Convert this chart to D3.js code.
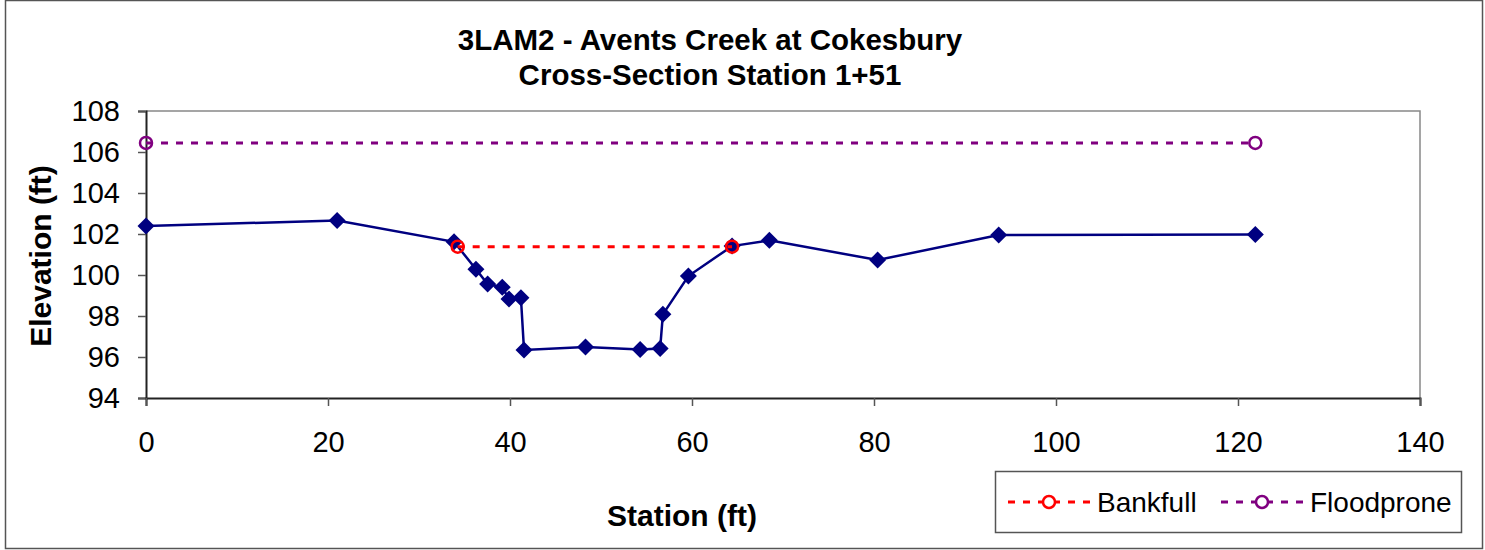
<!DOCTYPE html>
<html>
<head>
<meta charset="utf-8">
<script src="https://cdn.jsdelivr.net/npm/d3@7"></script>
<style>
  body { margin: 0; background: #fff; }
  text { font-family: "Liberation Sans", Arial, sans-serif; }
</style>
</head>
<body>
<svg id="chart" width="1485" height="550"></svg>
<script>
// cross-section survey points
const station = [0, 21, 33.85, 36.26, 37.54, 39.15, 39.89, 41.2, 41.54, 48.3, 54.3, 56.5, 56.8, 59.6, 64.4, 68.5, 80.4, 93.7, 121.9];
const elevation = [102.39, 102.66, 101.62, 100.28, 99.56, 99.40, 98.83, 98.89, 96.34, 96.49, 96.36, 96.41, 98.08, 99.95, 101.41, 101.69, 100.73, 101.95, 101.97];
const bankfullX = [34.25, 64.4];
const bankfullY = [101.38, 101.38];
const floodX = [0, 121.9];
const floodY = [106.44, 106.44];
const xTicks = [0, 20, 40, 60, 80, 100, 120, 140];
const yTicks = [94, 96, 98, 100, 102, 104, 106, 108];

const svg = d3.select('#chart');
const W = 1485, H = 550;
const mLeft = 146, mRight = 1420, mTop = 111, mBottom = 398;

// outer chart frame
svg.append('rect').attr('x', 5.5).attr('y', 0.5).attr('width', W - 8).attr('height', H - 2)
  .attr('fill', '#fff').attr('stroke', '#555').attr('stroke-width', 1.5);

const x = d3.scaleLinear().domain([0, 140]).range([mLeft, mRight]);
const y = d3.scaleLinear().domain([94, 108]).range([mBottom, mTop]);

// plot area border (top/right grey)
svg.append('path')
  .attr('d', `M${mLeft},${mTop}H${mRight}V${mBottom}`)
  .attr('fill', 'none').attr('stroke', '#888').attr('stroke-width', 1.5);

const yAxis = svg.append('g').attr('transform', `translate(${mLeft},0)`)
  .call(d3.axisLeft(y).tickValues(yTicks).tickSize(8).tickPadding(18).tickFormat(d3.format('d')));
const xAxis = svg.append('g').attr('transform', `translate(0,${mBottom})`)
  .call(d3.axisBottom(x).tickValues(xTicks).tickSize(8).tickPadding(25).tickFormat(d3.format('d')));
[xAxis, yAxis].forEach(a => {
  a.select('.domain').attr('stroke', '#222').attr('stroke-width', 2);
  a.selectAll('.tick line').attr('stroke', '#555').attr('stroke-width', 1.5);
  a.selectAll('.tick text').attr('font-size', 29).attr('fill', '#000')
    .attr('font-family', '"Liberation Sans", Arial, sans-serif');
});

// ground line
const pts = station.map((s, i) => [s, elevation[i]]);
const line = d3.line().x(d => x(d[0])).y(d => y(d[1]));
svg.append('path').datum(pts).attr('d', line)
  .attr('fill', 'none').attr('stroke', '#000080').attr('stroke-width', 2.5);
svg.append('g').selectAll('path').data(pts).join('path')
  .attr('transform', d => `translate(${x(d[0])},${y(d[1])})`)
  .attr('d', 'M0,-8.5L8.5,0L0,8.5L-8.5,0Z')
  .attr('fill', '#000080');

function dashed(xs, ys, color) {
  const p = xs.map((v, i) => [v, ys[i]]);
  svg.append('path').datum(p).attr('d', line)
    .attr('fill', 'none').attr('stroke', color).attr('stroke-width', 3).attr('stroke-dasharray', '7,8');
  svg.append('g').selectAll('circle').data(p).join('circle')
    .attr('cx', d => x(d[0])).attr('cy', d => y(d[1])).attr('r', 6)
    .attr('fill', 'none').attr('stroke', color).attr('stroke-width', 2.5);
}
dashed(bankfullX, bankfullY, '#ff0000');
dashed(floodX, floodY, '#800080');

// titles
const title = svg.append('text').attr('text-anchor', 'middle').attr('font-weight', 'bold')
  .attr('font-size', 29.5).attr('x', 710);
title.append('tspan').attr('x', 710).attr('y', 50).text('3LAM2 - Avents Creek at Cokesbury');
title.append('tspan').attr('x', 710).attr('y', 85).text('Cross-Section Station 1+51');

svg.append('text').attr('text-anchor', 'middle').attr('font-weight', 'bold').attr('font-size', 30)
  .attr('x', 682).attr('y', 526).text('Station (ft)');
svg.append('text').attr('text-anchor', 'middle').attr('font-weight', 'bold').attr('font-size', 30)
  .attr('transform', 'translate(51,256) rotate(-90)').text('Elevation (ft)');

// legend
const lg = svg.append('g');
lg.append('rect').attr('x', 995.5).attr('y', 471.5).attr('width', 466).attr('height', 61)
  .attr('fill', '#fff').attr('stroke', '#555').attr('stroke-width', 1.5);
const items = [
  { name: 'Bankfull', color: '#ff0000', x0: 1008 },
  { name: 'Floodprone', color: '#800080', x0: 1221 }
];
items.forEach(it => {
  lg.append('line').attr('x1', it.x0).attr('x2', it.x0 + 82).attr('y1', 502).attr('y2', 502)
    .attr('stroke', it.color).attr('stroke-width', 3).attr('stroke-dasharray', '7,8');
  lg.append('circle').attr('cx', it.x0 + 41).attr('cy', 502).attr('r', 6)
    .attr('fill', '#fff').attr('stroke', it.color).attr('stroke-width', 2.5);
  lg.append('text').attr('x', it.x0 + 89).attr('y', 512).attr('font-size', 28).text(it.name);
});
</script>
</body>
</html>
